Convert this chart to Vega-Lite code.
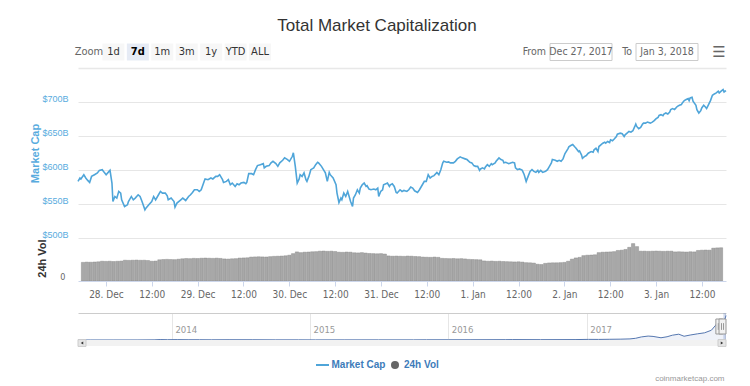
{
  "$schema": "https://vega.github.io/schema/vega-lite/v6.json",
  "background": "#ffffff",
  "padding": {"left": 28, "top": 17, "right": 0, "bottom": 0},
  "title": {"text": "Total Market Capitalization", "font": "Liberation Sans", "fontSize": 17, "fontWeight": "normal", "color": "#333333", "anchor": "middle", "frame": "group", "dx": -25, "offset": 5},
  "config": {
    "view": {"stroke": null},
    "font": "Liberation Sans Narrow, DejaVu Sans Condensed, sans-serif",
    "axis": {"labelFont": "Liberation Sans Narrow, DejaVu Sans Condensed, sans-serif", "titleFont": "Liberation Sans, sans-serif"}
  },
  "spacing": 0,
  "bounds": "flush",
  "resolve": {"scale": {"x": "independent", "y": "independent"}},
  "datasets": {
    "zoom": [{"k": "Zoom"}, {"k": "1d"}, {"k": "7d"}, {"k": "1m"}, {"k": "3m"}, {"k": "1y"}, {"k": "YTD"}, {"k": "ALL"}],
    "range": [{"date": "Dec 27, 2017", "lbl": "From"}, {"date": "Jan 3, 2018", "lbl": "To"}],
    "sel": [{"s": "2017-12-27T17:49", "e": "2018-01-03T17:00"}],
    "btn": [{"b": "left"}, {"b": "right"}],
    "leg": [{"item": "Market Cap"}, {"item": "24h Vol"}],
    "price": [
      {"t":"2017-12-27T18:00","v":583.4},{"t":"2017-12-27T18:30","v":588.4},{"t":"2017-12-27T18:45","v":587.0},{"t":"2017-12-27T19:30","v":593.3},{"t":"2017-12-27T20:00","v":588.4},{"t":"2017-12-27T20:30","v":584.9},{"t":"2017-12-27T21:00","v":581.9},{"t":"2017-12-27T21:30","v":590.8},{"t":"2017-12-27T22:15","v":593.3},{"t":"2017-12-27T23:00","v":595.9},{"t":"2017-12-27T23:30","v":599.7},
      {"t":"2017-12-28T00:15","v":600.7},{"t":"2017-12-28T00:45","v":596.7},{"t":"2017-12-28T01:15","v":593.3},{"t":"2017-12-28T02:00","v":598.2},{"t":"2017-12-28T02:15","v":599.7},{"t":"2017-12-28T02:45","v":581.0},{"t":"2017-12-28T03:00","v":553.8},{"t":"2017-12-28T03:30","v":561.2},{"t":"2017-12-28T04:00","v":558.8},{"t":"2017-12-28T04:30","v":568.6},{"t":"2017-12-28T05:00","v":566.2},{"t":"2017-12-28T05:15","v":556.3},{"t":"2017-12-28T06:00","v":546.4},{"t":"2017-12-28T06:45","v":548.9},{"t":"2017-12-28T07:00","v":553.8},{"t":"2017-12-28T07:45","v":561.2},{"t":"2017-12-28T08:15","v":556.3},{"t":"2017-12-28T08:45","v":558.8},{"t":"2017-12-28T09:30","v":563.7},{"t":"2017-12-28T10:00","v":561.2},{"t":"2017-12-28T10:30","v":553.8},{"t":"2017-12-28T11:15","v":541.5},{"t":"2017-12-28T11:30","v":544.0},{"t":"2017-12-28T12:15","v":548.9},{"t":"2017-12-28T13:00","v":553.8},{"t":"2017-12-28T13:30","v":561.2},{"t":"2017-12-28T14:00","v":556.3},{"t":"2017-12-28T14:45","v":563.7},{"t":"2017-12-28T15:15","v":568.6},{"t":"2017-12-28T15:45","v":566.2},{"t":"2017-12-28T16:30","v":566.2},{"t":"2017-12-28T17:00","v":562.2},{"t":"2017-12-28T17:15","v":556.3},{"t":"2017-12-28T18:00","v":558.8},{"t":"2017-12-28T18:45","v":553.8},{"t":"2017-12-28T19:00","v":545.5},{"t":"2017-12-28T19:30","v":551.4},{"t":"2017-12-28T20:30","v":556.3},{"t":"2017-12-28T21:00","v":558.8},{"t":"2017-12-28T21:45","v":555.3},{"t":"2017-12-28T22:30","v":561.2},{"t":"2017-12-28T23:00","v":563.7},{"t":"2017-12-28T23:30","v":567.1},
      {"t":"2017-12-29T00:00","v":571.1},{"t":"2017-12-29T00:45","v":571.1},{"t":"2017-12-29T01:15","v":568.6},{"t":"2017-12-29T01:45","v":571.1},{"t":"2017-12-29T02:30","v":583.4},{"t":"2017-12-29T02:45","v":587.0},{"t":"2017-12-29T03:30","v":585.9},{"t":"2017-12-29T04:15","v":588.4},{"t":"2017-12-29T04:45","v":587.0},{"t":"2017-12-29T05:30","v":590.8},{"t":"2017-12-29T06:00","v":590.8},{"t":"2017-12-29T06:30","v":593.3},{"t":"2017-12-29T07:15","v":585.9},{"t":"2017-12-29T07:30","v":581.9},{"t":"2017-12-29T08:15","v":583.4},{"t":"2017-12-29T08:45","v":585.9},{"t":"2017-12-29T09:15","v":578.5},{"t":"2017-12-29T09:45","v":581.0},{"t":"2017-12-29T10:30","v":576.0},{"t":"2017-12-29T11:00","v":580.0},{"t":"2017-12-29T11:30","v":578.5},{"t":"2017-12-29T12:00","v":581.0},{"t":"2017-12-29T12:45","v":581.9},{"t":"2017-12-29T13:15","v":580.0},{"t":"2017-12-29T13:30","v":581.9},{"t":"2017-12-29T14:00","v":594.8},{"t":"2017-12-29T14:45","v":594.8},{"t":"2017-12-29T15:15","v":593.3},{"t":"2017-12-29T15:45","v":600.7},{"t":"2017-12-29T16:15","v":606.7},{"t":"2017-12-29T17:00","v":608.1},{"t":"2017-12-29T17:45","v":609.6},{"t":"2017-12-29T18:00","v":603.3},{"t":"2017-12-29T18:30","v":605.6},{"t":"2017-12-29T19:15","v":606.7},{"t":"2017-12-29T19:45","v":610.7},{"t":"2017-12-29T20:15","v":613.0},{"t":"2017-12-29T21:00","v":609.6},{"t":"2017-12-29T21:30","v":605.6},{"t":"2017-12-29T22:00","v":610.7},{"t":"2017-12-29T22:45","v":614.5},{"t":"2017-12-29T23:15","v":618.1},
      {"t":"2017-12-30T00:00","v":615.6},{"t":"2017-12-30T00:30","v":613.0},{"t":"2017-12-30T01:15","v":620.4},{"t":"2017-12-30T01:30","v":625.5},{"t":"2017-12-30T02:00","v":605.6},{"t":"2017-12-30T02:30","v":581.0},{"t":"2017-12-30T03:00","v":587.0},{"t":"2017-12-30T03:15","v":593.3},{"t":"2017-12-30T03:45","v":590.8},{"t":"2017-12-30T04:15","v":595.9},{"t":"2017-12-30T04:45","v":585.9},{"t":"2017-12-30T05:00","v":583.4},{"t":"2017-12-30T05:30","v":590.8},{"t":"2017-12-30T06:00","v":600.7},{"t":"2017-12-30T06:45","v":603.3},{"t":"2017-12-30T07:15","v":608.1},{"t":"2017-12-30T07:45","v":611.6},{"t":"2017-12-30T08:00","v":610.7},{"t":"2017-12-30T08:45","v":605.6},{"t":"2017-12-30T09:15","v":600.7},{"t":"2017-12-30T09:45","v":595.9},{"t":"2017-12-30T10:15","v":583.4},{"t":"2017-12-30T10:45","v":596.7},{"t":"2017-12-30T11:00","v":593.3},{"t":"2017-12-30T11:45","v":588.4},{"t":"2017-12-30T12:30","v":578.5},{"t":"2017-12-30T12:45","v":566.2},{"t":"2017-12-30T13:15","v":552.3},{"t":"2017-12-30T13:45","v":558.8},{"t":"2017-12-30T14:00","v":556.3},{"t":"2017-12-30T14:30","v":566.2},{"t":"2017-12-30T15:00","v":561.2},{"t":"2017-12-30T15:30","v":568.6},{"t":"2017-12-30T15:45","v":563.7},{"t":"2017-12-30T16:15","v":553.8},{"t":"2017-12-30T16:45","v":546.4},{"t":"2017-12-30T17:00","v":558.8},{"t":"2017-12-30T17:30","v":563.7},{"t":"2017-12-30T18:00","v":571.1},{"t":"2017-12-30T18:30","v":566.2},{"t":"2017-12-30T18:45","v":573.6},{"t":"2017-12-30T19:15","v":578.5},{"t":"2017-12-30T19:45","v":581.0},{"t":"2017-12-30T20:15","v":576.0},{"t":"2017-12-30T20:30","v":577.0},{"t":"2017-12-30T21:00","v":572.1},{"t":"2017-12-30T21:30","v":571.1},{"t":"2017-12-30T22:15","v":572.1},{"t":"2017-12-30T22:45","v":571.1},{"t":"2017-12-30T23:15","v":573.6},{"t":"2017-12-30T23:30","v":561.2},
      {"t":"2017-12-31T00:00","v":568.6},{"t":"2017-12-31T00:30","v":571.1},{"t":"2017-12-31T00:45","v":578.5},{"t":"2017-12-31T01:45","v":581.0},{"t":"2017-12-31T02:15","v":576.0},{"t":"2017-12-31T02:30","v":578.5},{"t":"2017-12-31T03:00","v":580.0},{"t":"2017-12-31T03:30","v":576.0},{"t":"2017-12-31T04:00","v":567.1},{"t":"2017-12-31T04:15","v":566.2},{"t":"2017-12-31T05:00","v":571.1},{"t":"2017-12-31T05:30","v":568.6},{"t":"2017-12-31T06:00","v":570.1},{"t":"2017-12-31T06:45","v":568.6},{"t":"2017-12-31T07:15","v":571.1},{"t":"2017-12-31T07:45","v":575.1},{"t":"2017-12-31T08:15","v":573.6},{"t":"2017-12-31T08:45","v":569.6},{"t":"2017-12-31T09:30","v":567.1},{"t":"2017-12-31T10:00","v":571.1},{"t":"2017-12-31T10:45","v":578.5},{"t":"2017-12-31T11:15","v":583.4},{"t":"2017-12-31T11:45","v":583.4},{"t":"2017-12-31T12:15","v":593.3},{"t":"2017-12-31T12:45","v":588.4},{"t":"2017-12-31T13:15","v":590.8},{"t":"2017-12-31T13:45","v":591.9},{"t":"2017-12-31T14:30","v":596.7},{"t":"2017-12-31T15:00","v":593.3},{"t":"2017-12-31T15:30","v":600.7},{"t":"2017-12-31T16:00","v":610.7},{"t":"2017-12-31T16:15","v":613.0},{"t":"2017-12-31T17:00","v":611.6},{"t":"2017-12-31T17:30","v":612.1},{"t":"2017-12-31T18:00","v":610.7},{"t":"2017-12-31T18:45","v":610.7},{"t":"2017-12-31T19:15","v":613.0},{"t":"2017-12-31T19:45","v":616.6},{"t":"2017-12-31T20:30","v":619.6},{"t":"2017-12-31T21:00","v":618.1},{"t":"2017-12-31T21:45","v":616.6},{"t":"2017-12-31T22:15","v":615.6},{"t":"2017-12-31T23:00","v":611.6},{"t":"2017-12-31T23:30","v":610.7},
      {"t":"2018-01-01T00:00","v":606.7},{"t":"2018-01-01T00:30","v":605.6},{"t":"2018-01-01T01:00","v":605.6},{"t":"2018-01-01T01:30","v":599.7},{"t":"2018-01-01T01:45","v":601.8},{"t":"2018-01-01T02:15","v":603.3},{"t":"2018-01-01T02:45","v":601.8},{"t":"2018-01-01T03:00","v":604.7},{"t":"2018-01-01T03:30","v":608.1},{"t":"2018-01-01T04:00","v":605.6},{"t":"2018-01-01T04:30","v":609.6},{"t":"2018-01-01T04:45","v":608.1},{"t":"2018-01-01T05:30","v":610.7},{"t":"2018-01-01T05:45","v":613.0},{"t":"2018-01-01T06:30","v":618.1},{"t":"2018-01-01T07:00","v":615.6},{"t":"2018-01-01T07:30","v":614.5},{"t":"2018-01-01T07:45","v":610.7},{"t":"2018-01-01T08:15","v":611.6},{"t":"2018-01-01T09:00","v":609.6},{"t":"2018-01-01T09:30","v":610.7},{"t":"2018-01-01T10:00","v":611.6},{"t":"2018-01-01T10:30","v":610.7},{"t":"2018-01-01T10:45","v":603.3},{"t":"2018-01-01T11:15","v":600.7},{"t":"2018-01-01T11:45","v":601.8},{"t":"2018-01-01T12:15","v":600.7},{"t":"2018-01-01T12:30","v":599.7},{"t":"2018-01-01T13:00","v":593.3},{"t":"2018-01-01T13:30","v":583.4},{"t":"2018-01-01T14:00","v":590.8},{"t":"2018-01-01T14:30","v":598.2},{"t":"2018-01-01T15:00","v":600.7},{"t":"2018-01-01T15:30","v":598.2},{"t":"2018-01-01T16:00","v":596.7},{"t":"2018-01-01T16:30","v":599.7},{"t":"2018-01-01T16:45","v":596.7},{"t":"2018-01-01T17:15","v":599.7},{"t":"2018-01-01T17:45","v":596.7},{"t":"2018-01-01T18:30","v":598.2},{"t":"2018-01-01T19:00","v":600.7},{"t":"2018-01-01T19:30","v":605.6},{"t":"2018-01-01T20:00","v":610.7},{"t":"2018-01-01T20:15","v":615.6},{"t":"2018-01-01T21:00","v":614.5},{"t":"2018-01-01T21:30","v":613.0},{"t":"2018-01-01T22:00","v":614.5},{"t":"2018-01-01T22:30","v":613.0},{"t":"2018-01-01T23:00","v":616.6},{"t":"2018-01-01T23:30","v":624.4},
      {"t":"2018-01-02T00:15","v":631.4},{"t":"2018-01-02T00:30","v":634.4},{"t":"2018-01-02T01:00","v":636.3},{"t":"2018-01-02T01:30","v":637.8},{"t":"2018-01-02T02:00","v":634.4},{"t":"2018-01-02T02:15","v":632.9},{"t":"2018-01-02T03:00","v":627.4},{"t":"2018-01-02T03:15","v":628.4},{"t":"2018-01-02T03:45","v":622.5},{"t":"2018-01-02T04:00","v":617.5},{"t":"2018-01-02T04:30","v":620.0},{"t":"2018-01-02T05:00","v":621.5},{"t":"2018-01-02T05:30","v":624.9},{"t":"2018-01-02T06:15","v":627.4},{"t":"2018-01-02T06:45","v":626.4},{"t":"2018-01-02T07:00","v":629.9},{"t":"2018-01-02T07:30","v":632.3},{"t":"2018-01-02T08:00","v":627.4},{"t":"2018-01-02T08:15","v":634.8},{"t":"2018-01-02T08:45","v":637.3},{"t":"2018-01-02T09:15","v":639.7},{"t":"2018-01-02T09:45","v":641.2},{"t":"2018-01-02T10:00","v":639.7},{"t":"2018-01-02T10:30","v":642.2},{"t":"2018-01-02T11:00","v":640.7},{"t":"2018-01-02T11:15","v":644.7},{"t":"2018-01-02T11:45","v":643.3},{"t":"2018-01-02T12:15","v":646.2},{"t":"2018-01-02T12:45","v":649.6},{"t":"2018-01-02T13:00","v":653.0},{"t":"2018-01-02T13:45","v":654.5},{"t":"2018-01-02T14:15","v":653.6},{"t":"2018-01-02T14:45","v":649.6},{"t":"2018-01-02T15:00","v":652.1},{"t":"2018-01-02T15:30","v":654.5},{"t":"2018-01-02T16:00","v":657.0},{"t":"2018-01-02T16:30","v":656.0},{"t":"2018-01-02T17:00","v":658.1},{"t":"2018-01-02T17:30","v":664.4},{"t":"2018-01-02T17:45","v":667.9},{"t":"2018-01-02T18:00","v":664.4},{"t":"2018-01-02T18:30","v":661.0},{"t":"2018-01-02T19:00","v":663.0},{"t":"2018-01-02T19:30","v":667.9},{"t":"2018-01-02T19:45","v":669.3},{"t":"2018-01-02T20:15","v":669.3},{"t":"2018-01-02T20:45","v":670.8},{"t":"2018-01-02T21:30","v":669.3},{"t":"2018-01-02T22:00","v":670.8},{"t":"2018-01-02T22:30","v":672.9},{"t":"2018-01-02T23:00","v":675.9},{"t":"2018-01-02T23:30","v":677.8},{"t":"2018-01-02T23:45","v":680.7},
      {"t":"2018-01-03T00:15","v":681.8},{"t":"2018-01-03T00:45","v":680.3},{"t":"2018-01-03T01:00","v":682.7},{"t":"2018-01-03T01:30","v":684.2},{"t":"2018-01-03T02:00","v":682.7},{"t":"2018-01-03T02:30","v":685.6},{"t":"2018-01-03T02:45","v":689.2},{"t":"2018-01-03T03:15","v":690.7},{"t":"2018-01-03T03:45","v":689.2},{"t":"2018-01-03T04:15","v":692.6},{"t":"2018-01-03T04:30","v":694.1},{"t":"2018-01-03T05:00","v":695.6},{"t":"2018-01-03T05:30","v":696.6},{"t":"2018-01-03T05:45","v":699.0},{"t":"2018-01-03T06:15","v":702.5},{"t":"2018-01-03T06:45","v":704.0},{"t":"2018-01-03T07:15","v":705.5},{"t":"2018-01-03T07:30","v":702.5},{"t":"2018-01-03T07:45","v":706.4},{"t":"2018-01-03T08:15","v":707.4},{"t":"2018-01-03T08:30","v":701.5},{"t":"2018-01-03T09:15","v":695.6},{"t":"2018-01-03T09:30","v":689.2},{"t":"2018-01-03T10:00","v":684.2},{"t":"2018-01-03T10:30","v":687.7},{"t":"2018-01-03T10:45","v":691.6},{"t":"2018-01-03T11:15","v":695.6},{"t":"2018-01-03T11:45","v":692.6},{"t":"2018-01-03T12:00","v":690.7},{"t":"2018-01-03T12:30","v":696.6},{"t":"2018-01-03T13:00","v":702.5},{"t":"2018-01-03T13:30","v":710.4},{"t":"2018-01-03T14:00","v":712.3},{"t":"2018-01-03T14:30","v":713.8},{"t":"2018-01-03T15:00","v":716.3},{"t":"2018-01-03T15:15","v":713.8},{"t":"2018-01-03T15:45","v":716.3},{"t":"2018-01-03T16:15","v":718.8},{"t":"2018-01-03T16:30","v":715.3},{"t":"2018-01-03T17:00","v":717.3}
    ],
    "vol": [
      {"t":"2017-12-27T18:00","vol":26.0},{"t":"2017-12-27T19:00","vol":26.4},{"t":"2017-12-27T20:00","vol":26.2},{"t":"2017-12-27T21:00","vol":26.5},{"t":"2017-12-27T22:00","vol":26.8},{"t":"2017-12-27T23:00","vol":27.6},
      {"t":"2017-12-28T00:00","vol":27.4},{"t":"2017-12-28T01:00","vol":27.6},{"t":"2017-12-28T02:00","vol":27.2},{"t":"2017-12-28T03:00","vol":27.5},{"t":"2017-12-28T04:00","vol":27.8},{"t":"2017-12-28T05:00","vol":29.0},{"t":"2017-12-28T06:00","vol":28.8},{"t":"2017-12-28T07:00","vol":29.0},{"t":"2017-12-28T08:00","vol":29.2},{"t":"2017-12-28T09:00","vol":28.9},{"t":"2017-12-28T10:00","vol":29.0},{"t":"2017-12-28T11:00","vol":28.6},{"t":"2017-12-28T12:00","vol":27.6},{"t":"2017-12-28T13:00","vol":27.8},{"t":"2017-12-28T14:00","vol":29.6},{"t":"2017-12-28T15:00","vol":30.0},{"t":"2017-12-28T16:00","vol":30.2},{"t":"2017-12-28T17:00","vol":30.0},{"t":"2017-12-28T18:00","vol":29.8},{"t":"2017-12-28T19:00","vol":30.4},{"t":"2017-12-28T20:00","vol":31.0},{"t":"2017-12-28T21:00","vol":31.4},{"t":"2017-12-28T22:00","vol":31.2},{"t":"2017-12-28T23:00","vol":31.6},
      {"t":"2017-12-29T00:00","vol":31.4},{"t":"2017-12-29T01:00","vol":31.8},{"t":"2017-12-29T02:00","vol":32.0},{"t":"2017-12-29T03:00","vol":31.8},{"t":"2017-12-29T04:00","vol":31.6},{"t":"2017-12-29T05:00","vol":31.9},{"t":"2017-12-29T06:00","vol":31.5},{"t":"2017-12-29T07:00","vol":30.8},{"t":"2017-12-29T08:00","vol":30.6},{"t":"2017-12-29T09:00","vol":31.0},{"t":"2017-12-29T10:00","vol":31.2},{"t":"2017-12-29T11:00","vol":32.0},{"t":"2017-12-29T12:00","vol":32.2},{"t":"2017-12-29T13:00","vol":32.4},{"t":"2017-12-29T14:00","vol":33.4},{"t":"2017-12-29T15:00","vol":33.6},{"t":"2017-12-29T16:00","vol":33.8},{"t":"2017-12-29T17:00","vol":33.6},{"t":"2017-12-29T18:00","vol":33.5},{"t":"2017-12-29T19:00","vol":34.0},{"t":"2017-12-29T20:00","vol":34.4},{"t":"2017-12-29T21:00","vol":34.6},{"t":"2017-12-29T22:00","vol":34.8},{"t":"2017-12-29T23:00","vol":35.2},
      {"t":"2017-12-30T00:00","vol":36.0},{"t":"2017-12-30T01:00","vol":38.2},{"t":"2017-12-30T02:00","vol":40.6},{"t":"2017-12-30T03:00","vol":39.6},{"t":"2017-12-30T04:00","vol":40.2},{"t":"2017-12-30T05:00","vol":40.4},{"t":"2017-12-30T06:00","vol":40.8},{"t":"2017-12-30T07:00","vol":41.0},{"t":"2017-12-30T08:00","vol":41.6},{"t":"2017-12-30T09:00","vol":41.8},{"t":"2017-12-30T10:00","vol":41.4},{"t":"2017-12-30T11:00","vol":41.6},{"t":"2017-12-30T12:00","vol":41.2},{"t":"2017-12-30T13:00","vol":40.2},{"t":"2017-12-30T14:00","vol":40.0},{"t":"2017-12-30T15:00","vol":40.4},{"t":"2017-12-30T16:00","vol":40.2},{"t":"2017-12-30T17:00","vol":39.4},{"t":"2017-12-30T18:00","vol":39.2},{"t":"2017-12-30T19:00","vol":39.6},{"t":"2017-12-30T20:00","vol":39.0},{"t":"2017-12-30T21:00","vol":38.4},{"t":"2017-12-30T22:00","vol":38.2},{"t":"2017-12-30T23:00","vol":38.0},
      {"t":"2017-12-31T00:00","vol":38.2},{"t":"2017-12-31T01:00","vol":37.6},{"t":"2017-12-31T02:00","vol":35.0},{"t":"2017-12-31T03:00","vol":34.6},{"t":"2017-12-31T04:00","vol":34.8},{"t":"2017-12-31T05:00","vol":34.6},{"t":"2017-12-31T06:00","vol":34.4},{"t":"2017-12-31T07:00","vol":34.8},{"t":"2017-12-31T08:00","vol":34.6},{"t":"2017-12-31T09:00","vol":34.2},{"t":"2017-12-31T10:00","vol":34.0},{"t":"2017-12-31T11:00","vol":33.4},{"t":"2017-12-31T12:00","vol":33.2},{"t":"2017-12-31T13:00","vol":33.0},{"t":"2017-12-31T14:00","vol":33.4},{"t":"2017-12-31T15:00","vol":33.0},{"t":"2017-12-31T16:00","vol":31.6},{"t":"2017-12-31T17:00","vol":31.4},{"t":"2017-12-31T18:00","vol":31.2},{"t":"2017-12-31T19:00","vol":31.4},{"t":"2017-12-31T20:00","vol":31.0},{"t":"2017-12-31T21:00","vol":31.2},{"t":"2017-12-31T22:00","vol":30.8},{"t":"2017-12-31T23:00","vol":30.2},
      {"t":"2018-01-01T00:00","vol":30.0},{"t":"2018-01-01T01:00","vol":29.8},{"t":"2018-01-01T02:00","vol":29.6},{"t":"2018-01-01T03:00","vol":28.0},{"t":"2018-01-01T04:00","vol":27.6},{"t":"2018-01-01T05:00","vol":27.8},{"t":"2018-01-01T06:00","vol":27.4},{"t":"2018-01-01T07:00","vol":27.6},{"t":"2018-01-01T08:00","vol":27.2},{"t":"2018-01-01T09:00","vol":27.0},{"t":"2018-01-01T10:00","vol":26.8},{"t":"2018-01-01T11:00","vol":26.6},{"t":"2018-01-01T12:00","vol":26.8},{"t":"2018-01-01T13:00","vol":26.4},{"t":"2018-01-01T14:00","vol":25.6},{"t":"2018-01-01T15:00","vol":25.4},{"t":"2018-01-01T16:00","vol":25.0},{"t":"2018-01-01T17:00","vol":23.4},{"t":"2018-01-01T18:00","vol":23.0},{"t":"2018-01-01T19:00","vol":24.6},{"t":"2018-01-01T20:00","vol":25.2},{"t":"2018-01-01T21:00","vol":25.4},{"t":"2018-01-01T22:00","vol":25.4},{"t":"2018-01-01T23:00","vol":25.6},
      {"t":"2018-01-02T00:00","vol":26.0},{"t":"2018-01-02T01:00","vol":27.6},{"t":"2018-01-02T02:00","vol":30.5},{"t":"2018-01-02T03:00","vol":32.2},{"t":"2018-01-02T04:00","vol":33.0},{"t":"2018-01-02T05:00","vol":35.4},{"t":"2018-01-02T06:00","vol":36.0},{"t":"2018-01-02T07:00","vol":36.2},{"t":"2018-01-02T08:00","vol":36.6},{"t":"2018-01-02T09:00","vol":39.6},{"t":"2018-01-02T10:00","vol":40.2},{"t":"2018-01-02T11:00","vol":40.4},{"t":"2018-01-02T12:00","vol":40.6},{"t":"2018-01-02T13:00","vol":41.0},{"t":"2018-01-02T14:00","vol":42.6},{"t":"2018-01-02T15:00","vol":43.0},{"t":"2018-01-02T16:00","vol":44.0},{"t":"2018-01-02T17:00","vol":47.0},{"t":"2018-01-02T18:00","vol":52.2},{"t":"2018-01-02T19:00","vol":48.0},{"t":"2018-01-02T20:00","vol":41.6},{"t":"2018-01-02T21:00","vol":41.6},{"t":"2018-01-02T22:00","vol":41.4},{"t":"2018-01-02T23:00","vol":41.6},
      {"t":"2018-01-03T00:00","vol":41.8},{"t":"2018-01-03T01:00","vol":41.6},{"t":"2018-01-03T02:00","vol":41.4},{"t":"2018-01-03T03:00","vol":41.6},{"t":"2018-01-03T04:00","vol":41.6},{"t":"2018-01-03T05:00","vol":40.6},{"t":"2018-01-03T06:00","vol":40.8},{"t":"2018-01-03T07:00","vol":40.6},{"t":"2018-01-03T08:00","vol":40.4},{"t":"2018-01-03T09:00","vol":40.8},{"t":"2018-01-03T10:00","vol":40.6},{"t":"2018-01-03T11:00","vol":42.6},{"t":"2018-01-03T12:00","vol":43.0},{"t":"2018-01-03T13:00","vol":43.2},{"t":"2018-01-03T14:00","vol":43.0},{"t":"2018-01-03T15:00","vol":45.8},{"t":"2018-01-03T16:00","vol":46.2},{"t":"2018-01-03T17:00","vol":46.4}
    ],
    "hist": [
      {"t":"2013-04-28T00:00","v":1.6},{"t":"2013-06-01T00:00","v":1.3},{"t":"2013-08-01T00:00","v":1.3},{"t":"2013-10-01T00:00","v":1.7},{"t":"2013-11-15T00:00","v":5},{"t":"2013-12-01T00:00","v":13},{"t":"2013-12-20T00:00","v":9},{"t":"2014-01-15T00:00","v":11},{"t":"2014-02-15T00:00","v":8},{"t":"2014-03-15T00:00","v":8},{"t":"2014-04-15T00:00","v":6},{"t":"2014-06-01T00:00","v":8},{"t":"2014-08-01T00:00","v":7.5},{"t":"2014-10-01T00:00","v":5},{"t":"2014-12-01T00:00","v":5},{"t":"2015-01-15T00:00","v":3.5},{"t":"2015-04-01T00:00","v":4},{"t":"2015-07-01T00:00","v":4.5},{"t":"2015-10-01T00:00","v":4.5},{"t":"2015-11-05T00:00","v":6.5},{"t":"2016-01-01T00:00","v":7},{"t":"2016-03-01T00:00","v":7.5},{"t":"2016-06-01T00:00","v":10},{"t":"2016-06-18T00:00","v":12},{"t":"2016-09-01T00:00","v":10},{"t":"2016-12-01T00:00","v":12},{"t":"2017-01-05T00:00","v":18},{"t":"2017-02-01T00:00","v":17},{"t":"2017-03-01T00:00","v":21},{"t":"2017-04-01T00:00","v":25},{"t":"2017-04-25T00:00","v":32},{"t":"2017-05-10T00:00","v":50},{"t":"2017-05-25T00:00","v":90},{"t":"2017-06-12T00:00","v":115},{"t":"2017-06-25T00:00","v":105},{"t":"2017-07-16T00:00","v":65},{"t":"2017-08-01T00:00","v":95},{"t":"2017-08-15T00:00","v":140},{"t":"2017-09-01T00:00","v":170},{"t":"2017-09-15T00:00","v":110},{"t":"2017-10-01T00:00","v":145},{"t":"2017-10-20T00:00","v":180},{"t":"2017-11-08T00:00","v":210},{"t":"2017-11-26T00:00","v":285},{"t":"2017-12-08T00:00","v":440},{"t":"2017-12-17T00:00","v":610},{"t":"2017-12-22T00:00","v":510},{"t":"2017-12-27T00:00","v":585},{"t":"2018-01-01T00:00","v":615},{"t":"2018-01-03T17:00","v":717}
    ]
  },
  "vconcat": [
    {
      "width": 648, "height": 24,
      "resolve": {"scale": {"x": "independent"}},
      "layer": [
        {
          "data": {"name": "zoom"},
          "encoding": {"x": {"field": "k", "type": "nominal", "scale": {"type": "point", "domain": ["Zoom", "1d", "7d", "1m", "3m", "1y", "YTD", "ALL"], "range": [11, 182], "padding": 0}, "axis": null}},
          "layer": [
            {"transform": [{"filter": "datum.k !== 'Zoom'"}], "mark": {"type": "point", "shape": "M-1,-0.77H1V0.77H-1Z", "size": 484, "filled": true, "opacity": 1, "strokeWidth": 0},
             "encoding": {"fill": {"condition": {"test": "datum.k === '7d'", "value": "#e6ebf5"}, "value": "#f7f7f7"}}},
            {"transform": [{"filter": "datum.k !== '7d'"}], "mark": {"type": "text", "fontSize": 11},
             "encoding": {"text": {"field": "k"}, "color": {"condition": {"test": "datum.k === 'Zoom'", "value": "#666666"}, "value": "#333333"}}},
            {"transform": [{"filter": "datum.k === '7d'"}], "mark": {"type": "text", "fontSize": 11, "fontWeight": "bold", "color": "#000000"},
             "encoding": {"text": {"field": "k"}}}
          ]
        },
        {
          "data": {"name": "range"},
          "encoding": {"x": {"field": "date", "type": "nominal", "scale": {"type": "point", "domain": ["Dec 27, 2017", "Jan 3, 2018"], "range": [503, 589], "padding": 0}, "axis": null}},
          "layer": [
            {"mark": {"type": "point", "shape": "M-1,-0.274H1V0.274H-1Z", "size": 3844, "filled": true, "fill": "#ffffff", "stroke": "#cccccc", "strokeWidth": 1, "opacity": 1}},
            {"mark": {"type": "text", "fontSize": 10.5, "color": "#666666"}, "encoding": {"text": {"field": "date"}}},
            {"mark": {"type": "text", "fontSize": 10.5, "color": "#666666", "align": "right", "dx": -35}, "encoding": {"text": {"field": "lbl"}}},
            {"transform": [{"filter": "datum.lbl === 'To'"}], "mark": {"type": "text", "text": "☰", "font": "DejaVu Sans", "fontSize": 15, "color": "#666666", "dx": 52}}
          ]
        }
      ]
    },
    {
      "width": 648, "height": 22,
      "data": {"values": []},
      "mark": {"type": "rule"},
      "encoding": {}
    },
    {
      "width": 648, "height": 152,
      "data": {"name": "price"},
      "mark": {"type": "line", "color": "#4fa5d9", "strokeWidth": 1.6},
      "encoding": {
        "x": {"field": "t", "type": "temporal", "scale": {"nice": false},
              "axis": {"orient": "top", "offset": 18, "labels": false, "ticks": false, "grid": false, "domain": true, "domainColor": "#e8e8e8", "domainWidth": 1.5, "title": null}},
        "y": {"field": "v", "type": "quantitative", "scale": {"domain": [500, 724], "nice": false, "zero": false},
              "axis": {"values": [500, 550, 600, 650, 700], "grid": true, "gridColor": "#e6e6e6", "domain": false, "ticks": false,
                       "labelExpr": "'$' + datum.value + 'B'", "labelColor": "#58abde", "labelFontSize": 9, "labelFont": "Liberation Sans", "labelPadding": 10, "labelOffset": -4,
                       "title": "Market Cap", "titleColor": "#58abde", "titleFontSize": 11, "titleFontWeight": "bold", "titleX": -43, "titleY": 67, "titleBaseline": "middle", "titleAlign": "center"}}
      }
    },
    {
      "width": 648, "height": 43,
      "data": {"name": "vol"},
      "mark": {"type": "bar", "width": 3.3, "color": "#a8a8a8", "stroke": "#7d7d7d", "strokeWidth": 0.4, "clip": true},
      "encoding": {
        "x": {"field": "t", "type": "temporal", "scale": {"nice": false},
              "axis": {"tickCount": 14,
                       "labelExpr": "hours(datum.value) === 0 ? timeFormat(datum.value, '%-d. %b') : timeFormat(datum.value, '%H:%M')",
                       "grid": false, "domain": true, "domainColor": "#ccd6eb", "ticks": true, "tickColor": "#ccd6eb", "tickSize": 5, "labelPadding": 3,
                       "labelColor": "#666666", "labelFontSize": 10, "labelFlush": false, "labelOverlap": false, "title": null}},
        "y": {"field": "vol", "type": "quantitative", "scale": {"domain": [0, 60], "nice": false},
              "axis": {"values": [0], "grid": false, "domain": false, "ticks": false, "labelColor": "#666666", "labelFontSize": 9, "labelPadding": 13, "labelOffset": -5,
                       "title": "24h Vol", "titleColor": "#333333", "titleFontSize": 11, "titleFontWeight": "bold", "titleX": -36, "titleY": 20, "titleBaseline": "middle", "titleAlign": "center"}}
      }
    },
    {
      "width": 648, "height": 32,
      "data": {"values": []},
      "mark": {"type": "rule"},
      "encoding": {}
    },
    {
      "width": 648, "height": 27,
      "layer": [
        {"data": {"name": "hist"}, "mark": {"type": "area", "color": "#335cad", "opacity": 0.08},
         "encoding": {
           "x": {"field": "t", "type": "temporal", "scale": {"nice": false},
                 "axis": {"orient": "top", "format": "%Y", "tickCount": 5, "grid": true, "gridColor": "#e6e6e6", "domain": true, "domainColor": "#cccccc",
                          "ticks": false, "labelPadding": -21, "labelAlign": "left", "labelOffset": 3, "labelColor": "#999999", "labelFontSize": 9.5, "labelBound": true, "title": null}},
           "y": {"field": "v", "type": "quantitative", "scale": {"domain": [0, 790], "nice": false}, "axis": null}}},
        {"data": {"name": "hist"}, "mark": {"type": "line", "color": "#5577b0", "strokeWidth": 1},
         "encoding": {"x": {"field": "t", "type": "temporal"}, "y": {"field": "v", "type": "quantitative"}}},
        {"data": {"name": "sel"}, "mark": {"type": "rect", "color": "#6685c2", "opacity": 0.3},
         "encoding": {"x": {"field": "s", "type": "temporal"}, "x2": {"field": "e"}}},
        {"data": {"name": "sel"}, "mark": {"type": "point", "shape": "M-1,-1H-0.07V1H-1Z M-0.68,-0.45V0.45 M-0.4,-0.45V0.45", "size": 225, "filled": true, "fill": "#f2f2f2", "stroke": "#999999", "strokeWidth": 1, "opacity": 1},
         "encoding": {"x": {"field": "s", "type": "temporal"}}},
        {"data": {"name": "sel"}, "mark": {"type": "point", "shape": "M-0.93,-1H0V1H-0.93Z M-0.6,-0.45V0.45 M-0.33,-0.45V0.45", "size": 225, "filled": true, "fill": "#f2f2f2", "stroke": "#999999", "strokeWidth": 1, "opacity": 1},
         "encoding": {"x": {"field": "e", "type": "temporal"}}}
      ]
    },
    {
      "width": 648, "height": 6,
      "view": {"fill": "#f2f2f2", "stroke": null},
      "data": {"name": "btn"},
      "encoding": {"x": {"field": "b", "type": "nominal", "scale": {"type": "point", "domain": ["left", "right"], "padding": 0.00625}, "axis": null}},
      "layer": [
        {"mark": {"type": "point", "shape": "M-1,-0.85H1V0.85H-1Z", "size": 64, "filled": true, "fill": "#e6e6e6", "stroke": "#cccccc", "strokeWidth": 1, "opacity": 1}},
        {"mark": {"type": "point", "size": 8, "filled": true, "color": "#333333", "opacity": 1},
         "encoding": {"shape": {"field": "b", "type": "nominal", "scale": {"domain": ["left", "right"], "range": ["triangle-left", "triangle-right"]}, "legend": null}}}
      ]
    },
    {
      "width": 648, "height": 38,
      "data": {"name": "leg"},
      "encoding": {"x": {"field": "item", "type": "nominal",
                         "scale": {"type": "point", "domain": ["Market Cap", "24h Vol"], "range": [244.5, 317], "padding": 0},
                         "axis": {"labels": false, "ticks": false, "domain": false, "grid": false, "title": "coinmarketcap.com", "titleX": 646, "titleY": -6, "titleAlign": "right", "titleBaseline": "middle",
                                  "titleFontSize": 8, "titleColor": "#999999", "titleFontWeight": "normal", "titleFont": "Liberation Sans"}}},
      "layer": [
        {"transform": [{"filter": "datum.item === 'Market Cap'"}], "mark": {"type": "point", "shape": "stroke", "size": 169, "filled": false, "stroke": "#4fa5d9", "strokeWidth": 2, "opacity": 1}},
        {"transform": [{"filter": "datum.item === '24h Vol'"}], "mark": {"type": "point", "shape": "circle", "size": 64, "filled": true, "color": "#666666", "opacity": 1}},
        {"mark": {"type": "text", "align": "left", "dx": 9, "fontSize": 10, "fontWeight": "bold", "color": "#3d7cba", "font": "Liberation Sans"}, "encoding": {"text": {"field": "item"}}}
      ]
    }
  ]
}
